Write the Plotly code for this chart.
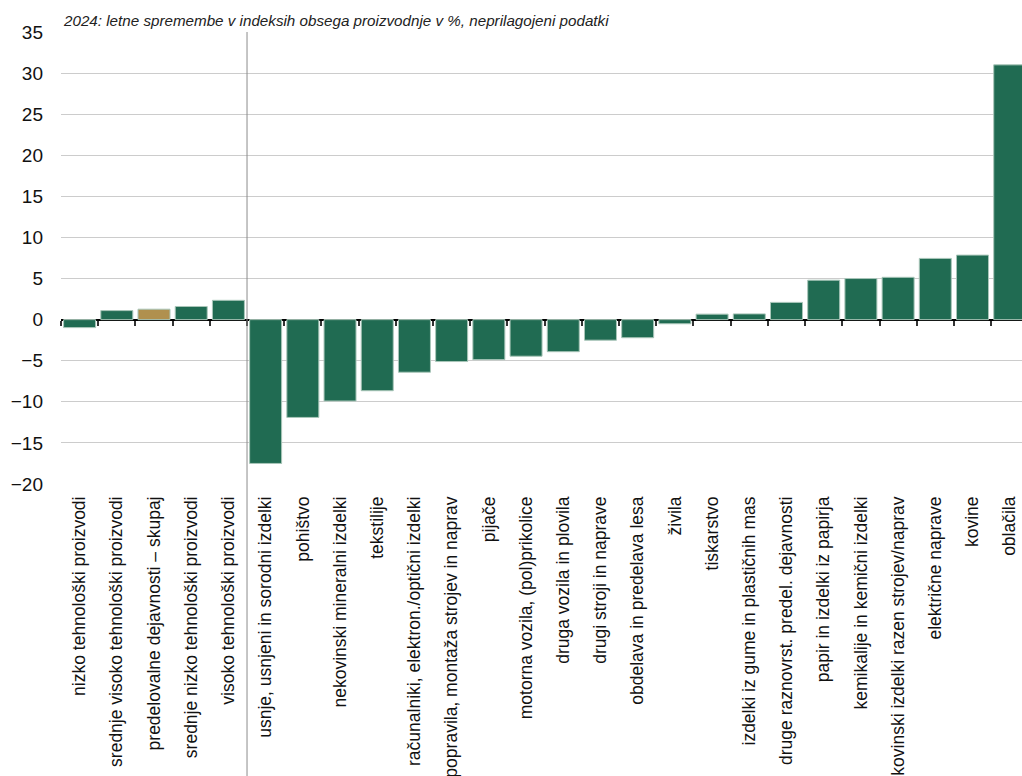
import plotly.graph_objects as go

categories = ['nizko tehnološki proizvodi', 'srednje visoko tehnološki proizvodi',
              'predelovalne dejavnosti – skupaj', 'srednje nizko tehnološki proizvodi',
              'visoko tehnološki proizvodi', 'usnje, usnjeni in sorodni izdelki', 'pohištvo',
              'nekovinski mineralni izdelki', 'tekstilije', 'računalniki, elektron./optični izdelki',
              'popravila, montaža strojev in naprav', 'pijače', 'motorna vozila, (pol)prikolice',
              'druga vozila in plovila', 'drugi stroji in naprave', 'obdelava in predelava lesa',
              'živila', 'tiskarstvo', 'izdelki iz gume in plastičnih mas',
              'druge raznovrst. predel. dejavnosti', 'papir in izdelki iz papirja',
              'kemikalije in kemični izdelki', 'kovinski izdelki razen strojev/naprav',
              'električne naprave', 'kovine', 'oblačila']
values = [-0.97, 1.1, 1.27, 1.6, 2.35, -17.5, -11.9, -9.9, -8.65, -6.4, -5.1, -4.87, -4.45,
          -3.9, -2.5, -2.2, -0.5, 0.67, 0.7, 2.1, 4.8, 5.0, 5.15, 7.45, 7.85, 31.0]
highlight = 'predelovalne dejavnosti – skupaj'
title_text = '2024: letne spremembe v indeksih obsega proizvodnje v %, neprilagojeni podatki'
y_ticks = [35, 30, 25, 20, 15, 10, 5, 0, -5, -10, -15, -20]

green = '#206b52'
gold = '#b0904e'
colors = [gold if c == highlight else green for c in categories]

y_min, y_max = -20, 35
x_range = [-0.5, 25.33]

fig = go.Figure(go.Bar(x=categories,
                       y=values,
                       marker_color=colors,
                       marker_line_color='#a9c6b9',
                       marker_line_width=1,
                       hoverinfo='x+y'))

# ticks sitting on the zero line, at category boundaries
fig.add_trace(go.Scatter(x=[x_range[0]], y=[0], xaxis='x2', mode='markers',
                         marker_opacity=0, showlegend=False, hoverinfo='skip'))

fig.add_shape(type='line', xref='x', yref='paper', x0=4.5, x1=4.5, y0=-1, y1=1,
              line=dict(color='#8c8c8c', width=1))

fig.add_annotation(text='<i>' + title_text + '</i>', xref='paper', yref='paper',
                   x=0.0, y=1, xanchor='left', yanchor='bottom', yshift=1, showarrow=False,
                   font=dict(family='Liberation Sans, Arial, sans-serif', size=15.2, color='#222222'))

fig.update_layout(width=1022,
                  height=776,
                  margin=dict(l=61, r=0, t=32, b=292, autoexpand=False),
                  paper_bgcolor='white',
                  plot_bgcolor='white',
                  bargap=0.14,
                  showlegend=False,
                  font=dict(family='Liberation Sans, Arial, sans-serif', color='#111111'),
                  xaxis=dict(type='category',
                             range=x_range,
                             automargin=False,
                             tickangle=-90,
                             tickfont=dict(size=17.5, color='#111111'),
                             ticks='',
                             ticklabelstandoff=8,
                             showgrid=False,
                             showline=False,
                             zeroline=False),
                  xaxis2=dict(overlaying='x',
                              anchor='free',
                              position=(0 - y_min) / (y_max - y_min),
                              range=x_range,
                              automargin=False,
                              tickmode='array',
                              tickvals=[i - 0.5 for i in range(len(categories))],
                              ticks='outside',
                              ticklen=5,
                              tickwidth=1.5,
                              tickcolor='#333333',
                              showticklabels=False,
                              showgrid=False,
                              zeroline=False,
                              showline=False),
                  yaxis=dict(range=[y_min, y_max],
                             automargin=False,
                             tickmode='array',
                             tickvals=y_ticks,
                             tickfont=dict(size=19, color='#111111'),
                             ticklabelstandoff=17,
                             showgrid=True,
                             gridcolor='#cccccc',
                             gridwidth=1,
                             zeroline=True,
                             zerolinecolor='#000000',
                             zerolinewidth=1.5,
                             showline=False))

# drop the page's default body margin so the figure fills the window exactly
fig.write_html("out.html",
               config={'displayModeBar': False},
               post_script="document.body.style.margin='0';document.body.style.overflow='hidden';")
